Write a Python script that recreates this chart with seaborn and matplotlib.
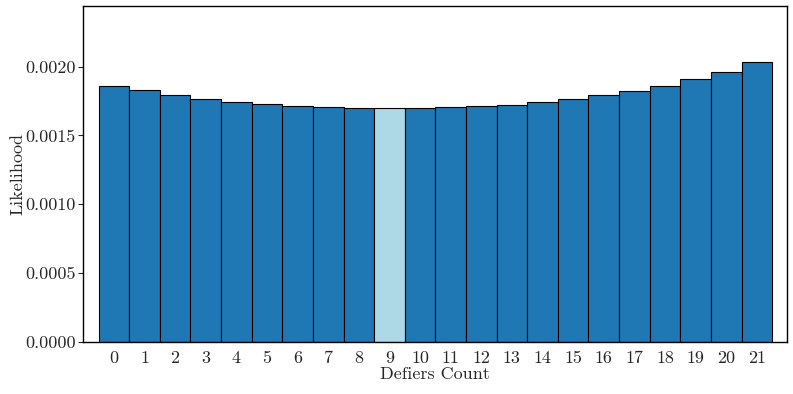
import matplotlib
matplotlib.use("Agg")
import matplotlib.pyplot as plt
import pandas as pd
import seaborn as sns

# データ
defiers = list(range(22))
likelihood = [0.001861, 0.001827, 0.001790, 0.001761, 0.001742, 0.001728,
              0.001713, 0.001703, 0.001699, 0.001698, 0.001699, 0.001703,
              0.001713, 0.001724, 0.001742, 0.001761, 0.001790, 0.001822,
              0.001859, 0.001907, 0.001963, 0.002030]
highlight = 9

sns.set_theme(style="white")
plt.rcParams['font.family'] = ['cmr10', 'DejaVu Serif']
plt.rcParams['mathtext.fontset'] = 'cm'
plt.rcParams['axes.formatter.use_mathtext'] = True

df = pd.DataFrame({'Defiers Count': defiers, 'Likelihood': likelihood})
colors = ['lightblue' if d == highlight else '#1f77b4' for d in defiers]

fig, ax = plt.subplots(figsize=(7.93, 3.94), dpi=100)
sns.barplot(data=df, x='Defiers Count', y='Likelihood', hue='Defiers Count',
            palette=colors, legend=False, width=1.0, saturation=1,
            edgecolor='black', linewidth=0.8, ax=ax)

ax.set_xlim(-1, 22)
ax.set_ylim(0, 0.00244)
ax.set_yticks([0, 0.0005, 0.001, 0.0015, 0.002])
ax.set_yticklabels(['0.0000', '0.0005', '0.0010', '0.0015', '0.0020'])
ax.set_xlabel('Defiers Count', fontsize=13, labelpad=1)
ax.set_ylabel('Likelihood', fontsize=13, labelpad=0)
ax.tick_params(axis='y', length=3.5, width=0.8, labelsize=13, direction='out', left=True, pad=2)
ax.tick_params(axis='x', length=0, labelsize=13, pad=6)
for s in ax.spines.values():
    s.set_color('black')
    s.set_linewidth(1.0)

fig.subplots_adjust(left=0.105, right=0.993, top=0.985, bottom=0.132)
fig.savefig('out.png', dpi=100)
